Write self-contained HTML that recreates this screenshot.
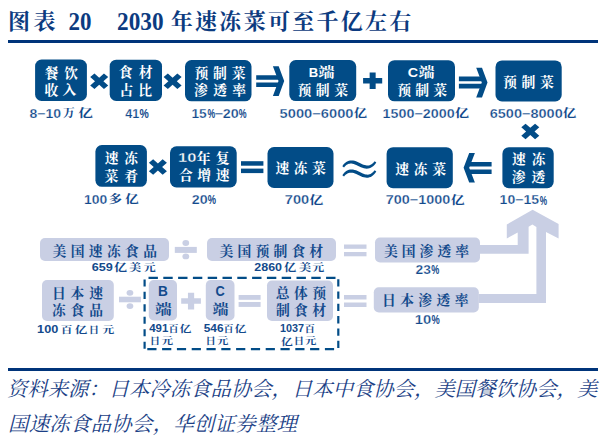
<!DOCTYPE html>
<html lang="zh-CN"><head><meta charset="utf-8"><title>图表 20 2030年速冻菜可至千亿左右</title>
<style>
html,body{margin:0;padding:0;background:#fff}
body{width:608px;height:440px;overflow:hidden}
svg{display:block}
text{white-space:pre}
.k{font-family:"Liberation Serif","Noto Serif CJK SC",serif;font-weight:700}
.n{font-family:"Liberation Sans","Noto Sans CJK SC",sans-serif;font-weight:700}
.ti{font-family:"Liberation Serif","Noto Serif CJK SC",serif;font-weight:700}
.fo{font-family:"Liberation Serif","Noto Serif CJK SC",serif;font-weight:400;font-style:italic}
</style></head><body>
<svg width="608" height="440" viewBox="0 0 608 440">
<g id="shapes">
<rect x="8" y="40" width="590" height="3" fill="#00347a"/>
<rect x="8" y="368" width="590" height="3" fill="#00347a"/>
<rect x="35.1" y="59.6" width="51.8" height="41.4" rx="6.5" ry="6.5" fill="#024c87"/>
<rect x="109.7" y="59.7" width="52.3" height="41.3" rx="6.5" ry="6.5" fill="#024c87"/>
<rect x="185" y="60" width="66.5" height="41.3" rx="6.5" ry="6.5" fill="#024c87"/>
<rect x="289.3" y="60.1" width="66.9" height="41.0" rx="6.5" ry="6.5" fill="#024c87"/>
<rect x="388" y="60.2" width="67" height="41.1" rx="6.5" ry="6.5" fill="#024c87"/>
<rect x="495.5" y="60.4" width="66.2" height="41.1" rx="6.5" ry="6.5" fill="#024c87"/>
<rect x="95.4" y="145.1" width="51.5" height="41.7" rx="6.5" ry="6.5" fill="#024c87"/>
<rect x="170" y="146.3" width="66.7" height="41.1" rx="6.5" ry="6.5" fill="#024c87"/>
<rect x="267.5" y="147" width="66.0" height="41" rx="6.5" ry="6.5" fill="#024c87"/>
<rect x="386.6" y="147.2" width="66.2" height="41.0" rx="6.5" ry="6.5" fill="#024c87"/>
<rect x="502.4" y="147.2" width="51.3" height="41.0" rx="6.5" ry="6.5" fill="#024c87"/>
<rect x="40" y="238" width="129" height="23" rx="5" ry="5" fill="#c9cfe4"/>
<rect x="207" y="238" width="129" height="23" rx="5" ry="5" fill="#c9cfe4"/>
<rect x="375" y="237.5" width="105" height="25.0" rx="5" ry="5" fill="#c9cfe4"/>
<rect x="42" y="280" width="71.8" height="41" rx="5" ry="5" fill="#c9cfe4"/>
<rect x="148.8" y="280" width="28.2" height="40.5" rx="5" ry="5" fill="#c9cfe4"/>
<rect x="205.8" y="280" width="28.7" height="40.5" rx="5" ry="5" fill="#c9cfe4"/>
<rect x="267" y="280.5" width="66" height="40.5" rx="5" ry="5" fill="#c9cfe4"/>
<rect x="373.8" y="287.2" width="105.0" height="25.2" rx="5" ry="5" fill="#c9cfe4"/>
<path d="M90.2,76.95L94.45,73.45L99.2,77.65L103.95,73.45L108.2,76.95L103.4,81.2L108.2,85.45L103.95,88.95L99.2,84.75L94.45,88.95L90.2,85.45L95.0,81.2Z" fill="#024c87"/>
<path d="M163.6,76.95L167.85,73.45L172.6,77.65L177.35,73.45L181.6,76.95L176.8,81.2L181.6,85.45L177.35,88.95L172.6,84.75L167.85,88.95L163.6,85.45L168.4,81.2Z" fill="#024c87"/>
<path d="M148.9,162.75L153.15,159.25L157.9,163.45L162.65,159.25L166.9,162.75L162.1,167L166.9,171.25L162.65,174.75L157.9,170.55L153.15,174.75L148.9,171.25L153.7,167Z" fill="#024c87"/>
<path d="M521.3,127.15L525.55,123.65L530.3,127.85L535.05,123.65L539.3,127.15L534.5,131.4L539.3,135.65L535.05,139.15L530.3,134.95L525.55,139.15L521.3,135.65L526.1,131.4Z" fill="#024c87"/>
<path d="M363.1,78.0H382.2V83.4H363.1Z M369.65,72.5H375.65V88.9H369.65Z" fill="#024c87"/>
<path d="M181.2,298.25H200.9V303.85H181.2Z M187.95,292.7H194.15V309.4H187.95Z" fill="#c9cfe4"/>
<rect x="241" y="161.2" width="22.4" height="4.5" fill="#024c87"/>
<rect x="241" y="168.6" width="22.4" height="4.5" fill="#024c87"/>
<rect x="344" y="244.5" width="22.5" height="4.3" fill="#c9cfe4"/>
<rect x="344" y="252" width="22.5" height="4.3" fill="#c9cfe4"/>
<rect x="344" y="295" width="22.5" height="4.5" fill="#c9cfe4"/>
<rect x="344" y="302.5" width="22.5" height="4.5" fill="#c9cfe4"/>
<rect x="238.6" y="295" width="22.0" height="4.8" fill="#c9cfe4"/>
<rect x="238.6" y="302" width="22.0" height="4.9" fill="#c9cfe4"/>
<path d="M256.2,75.19999999999999H280.2V79.8H256.2Z M256.2,82.39999999999999H280.2V87.1H256.2Z" fill="#024c87"/>
<path d="M272.9,66.3H278.7L284.2,81.1L278.7,96.0H272.9L278.5,81.1Z" fill="#024c87"/>
<path d="M458.9,76.6H483.5V81.2H458.9Z M458.9,83.8H483.5V88.5H458.9Z" fill="#024c87"/>
<path d="M476.2,67.7H482.0L487.5,82.5L482.0,97.4H476.2L481.8,82.5Z" fill="#024c87"/>
<path d="M491.6,162.1H467.6V166.5H491.6Z M491.6,169.6H467.6V174.1H491.6Z" fill="#024c87"/>
<path d="M474.9,152.89999999999998H469.2L463.6,167.7L469.2,182.5H474.9L469.2,167.7Z" fill="#024c87"/>
<path d="M344.04,167.42L344.8,166.52L345.56,165.76L346.33,165.11L347.12,164.58L347.92,164.17L348.75,163.87L349.6,163.67L350.5,163.59L351.47,163.61L352.51,163.74L353.65,164.01L354.89,164.42L356.24,164.98L357.74,165.72L359.32,166.52L360.88,167.23L362.38,167.81L363.85,168.24L365.29,168.52L366.7,168.63L368.08,168.55L369.42,168.27L370.71,167.78L371.94,167.09L373.1,166.21L374.21,165.14L375.29,163.88L376.32,162.45L374.68,161.15L373.58,162.42L372.54,163.43L371.54,164.22L370.57,164.81L369.64,165.21L368.72,165.45L367.8,165.55L366.83,165.52L365.81,165.37L364.7,165.08L363.5,164.67L362.21,164.14L360.81,163.48L359.26,162.68L357.63,161.88L356.03,161.25L354.5,160.79L353.01,160.51L351.59,160.41L350.24,160.48L348.95,160.73L347.74,161.14L346.63,161.7L345.61,162.39L344.68,163.2L343.83,164.11L343.05,165.12L342.36,166.18Z" fill="#024c87"/>
<path d="M344.04,176.52L344.8,175.62L345.56,174.86L346.33,174.21L347.12,173.68L347.92,173.27L348.75,172.97L349.6,172.77L350.5,172.69L351.47,172.71L352.51,172.84L353.65,173.11L354.89,173.52L356.24,174.08L357.74,174.82L359.32,175.62L360.88,176.33L362.38,176.91L363.85,177.34L365.29,177.62L366.7,177.73L368.08,177.65L369.42,177.37L370.71,176.88L371.94,176.19L373.1,175.31L374.21,174.24L375.29,172.98L376.32,171.55L374.68,170.25L373.58,171.52L372.54,172.53L371.54,173.32L370.57,173.91L369.64,174.31L368.72,174.55L367.8,174.65L366.83,174.62L365.81,174.47L364.7,174.18L363.5,173.77L362.21,173.24L360.81,172.58L359.26,171.78L357.63,170.98L356.03,170.35L354.5,169.89L353.01,169.61L351.59,169.51L350.24,169.58L348.95,169.83L347.74,170.24L346.63,170.8L345.61,171.49L344.68,172.3L343.83,173.21L343.05,174.22L342.36,175.28Z" fill="#024c87"/>
<rect x="174.8" y="246.9" width="22.0" height="6.0" fill="#c9cfe4"/>
<ellipse cx="185.8" cy="243" rx="3.4" ry="2.9" fill="#c9cfe4"/><ellipse cx="185.8" cy="256.4" rx="3.4" ry="2.9" fill="#c9cfe4"/>
<rect x="119" y="296.7" width="21.9" height="5.6" fill="#c9cfe4"/>
<ellipse cx="129.95" cy="292.8" rx="3.4" ry="2.9" fill="#c9cfe4"/><ellipse cx="129.95" cy="306.1" rx="3.4" ry="2.9" fill="#c9cfe4"/>
<path d="M532.6,209.8L558.6,224V238.6L546,232V303H478.5V294H536.4V227.1L532.4,224.6L528.6,226.8V253.7H479.5V245H517.7V232.6L506.8,238.4V224.5Z" fill="#c9cfe4"/>
<g stroke="#024c87" stroke-width="2.2" fill="none"><path d="M148.5,277.8H336" stroke-dasharray="9.4 5.4"/><path d="M147.3,349.1H336" stroke-dasharray="9.2 5.6"/><path d="M144.6,279.4V349" stroke-dasharray="7.1 5.35"/><path d="M338.3,279.2V349" stroke-dasharray="7.3 5.0"/></g>
</g>
<g id="labels">
<text><tspan class="k" x="44.75" y="77.52" font-size="13.8" fill="#ffffff" textLength="33.25" lengthAdjust="spacing">餐饮</tspan><tspan class="k" x="44.5" y="94.87" font-size="13.8" fill="#ffffff" textLength="31.75" lengthAdjust="spacing">收入</tspan></text>
<text><tspan class="k" x="118.7" y="76.72" font-size="13.8" fill="#ffffff" textLength="33.85" lengthAdjust="spacing">食材</tspan><tspan class="k" x="119.5" y="94.52" font-size="13.8" fill="#ffffff" textLength="32.45" lengthAdjust="spacing">占比</tspan></text>
<text><tspan class="k" x="194.5" y="77.52" font-size="13.8" fill="#ffffff" textLength="51.0" lengthAdjust="spacing">预制菜</tspan><tspan class="k" x="194.0" y="95.02" font-size="13.8" fill="#ffffff" textLength="52.15" lengthAdjust="spacing">渗透率</tspan></text>
<text><tspan class="n" x="308.69" y="76.67" font-size="13.1" fill="#ffffff" textLength="9.46" lengthAdjust="spacingAndGlyphs">B</tspan><tspan class="k" x="318.21" y="77.22" font-size="13.8" fill="#ffffff" textLength="16.33" lengthAdjust="spacingAndGlyphs">端</tspan><tspan class="k" x="297.5" y="94.72" font-size="13.8" fill="#ffffff" textLength="50.5" lengthAdjust="spacing">预制菜</tspan></text>
<text><tspan class="n" x="407.87" y="76.77" font-size="13.1" fill="#ffffff" textLength="10.37" lengthAdjust="spacingAndGlyphs">C</tspan><tspan class="k" x="418.46" y="77.22" font-size="13.8" fill="#ffffff" textLength="16.07" lengthAdjust="spacingAndGlyphs">端</tspan><tspan class="k" x="397.2" y="94.92" font-size="13.8" fill="#ffffff" textLength="49.85" lengthAdjust="spacing">预制菜</tspan></text>
<text><tspan class="k" x="503.05" y="86.87" font-size="13.8" fill="#ffffff" textLength="50.85" lengthAdjust="spacing">预制菜</tspan></text>
<text><tspan class="k" x="104.75" y="163.22" font-size="13.8" fill="#ffffff" textLength="33.25" lengthAdjust="spacing">速冻</tspan><tspan class="k" x="104.5" y="180.72" font-size="13.8" fill="#ffffff" textLength="33.5" lengthAdjust="spacing">菜肴</tspan></text>
<text><tspan stroke="#024c87" stroke-width="0.35" class="n" x="178.09" y="161.75" font-size="12.9" fill="#ffffff" textLength="18.37" lengthAdjust="spacingAndGlyphs">10</tspan><tspan class="k" x="196.8" y="163.02" font-size="13.8" fill="#ffffff" textLength="32.65" lengthAdjust="spacing">年复</tspan><tspan class="k" x="179.0" y="180.22" font-size="13.8" fill="#ffffff" textLength="50.5" lengthAdjust="spacing">合增速</tspan></text>
<text><tspan class="k" x="275.45" y="172.72" font-size="13.8" fill="#ffffff" textLength="50.25" lengthAdjust="spacing">速冻菜</tspan></text>
<text><tspan class="k" x="395.15" y="173.87" font-size="13.8" fill="#ffffff" textLength="50.95" lengthAdjust="spacing">速冻菜</tspan></text>
<text><tspan class="k" x="511.95" y="164.02" font-size="13.8" fill="#ffffff" textLength="33.5" lengthAdjust="spacing">速冻</tspan><tspan class="k" x="511.7" y="182.32" font-size="13.8" fill="#ffffff" textLength="33.5" lengthAdjust="spacing">渗透</tspan></text>
<text><tspan class="k" x="52.5" y="255.92" font-size="13.8" fill="#134a8c" textLength="104.5" lengthAdjust="spacing">美国速冻食品</tspan></text>
<text><tspan class="k" x="219.5" y="255.72" font-size="13.8" fill="#134a8c" textLength="103.65" lengthAdjust="spacing">美国预制食材</tspan></text>
<text><tspan class="k" x="384.0" y="255.72" font-size="13.8" fill="#134a8c" textLength="85.0" lengthAdjust="spacing">美国渗透率</tspan></text>
<text><tspan class="k" x="382.0" y="305.22" font-size="13.8" fill="#134a8c" textLength="86.5" lengthAdjust="spacing">日本渗透率</tspan></text>
<text><tspan class="k" x="52.0" y="297.72" font-size="13.8" fill="#134a8c" textLength="51.0" lengthAdjust="spacing">日本速</tspan><tspan class="k" x="52.0" y="314.72" font-size="13.8" fill="#134a8c" textLength="51.0" lengthAdjust="spacing">冻食品</tspan></text>
<text><tspan class="n" x="158.05" y="295.94" font-size="14.2" fill="#134a8c" textLength="9.87" lengthAdjust="spacingAndGlyphs">B</tspan><tspan class="k" x="154.94" y="313.92" font-size="13.8" fill="#134a8c" textLength="16.75" lengthAdjust="spacingAndGlyphs">端</tspan></text>
<text><tspan class="n" x="215.4" y="296.31" font-size="14.2" fill="#134a8c" textLength="9.24" lengthAdjust="spacingAndGlyphs">C</tspan><tspan class="k" x="212.46" y="313.92" font-size="13.8" fill="#134a8c" textLength="16.07" lengthAdjust="spacingAndGlyphs">端</tspan></text>
<text><tspan class="k" x="275.7" y="297.72" font-size="13.8" fill="#134a8c" textLength="50.35" lengthAdjust="spacing">总体预</tspan><tspan class="k" x="275.95" y="314.72" font-size="13.8" fill="#134a8c" textLength="50.1" lengthAdjust="spacing">制食材</tspan></text>
<text><tspan stroke="#fff" stroke-width="0.25" class="n" x="29.48" y="118.23" font-size="12.9" fill="#134a8c" textLength="31.66" lengthAdjust="spacingAndGlyphs">8−10</tspan><tspan class="k" x="63.03" y="117.16" font-size="11" fill="#134a8c" textLength="11.78" lengthAdjust="spacingAndGlyphs">万</tspan><tspan class="k" x="78.23" y="117.2" font-size="11" fill="#134a8c" textLength="14.66" lengthAdjust="spacingAndGlyphs">亿</tspan></text>
<text><tspan stroke="#fff" stroke-width="0.25" class="n" x="125.13" y="118.23" font-size="12.9" fill="#134a8c" textLength="14.04" lengthAdjust="spacingAndGlyphs">41</tspan><tspan class="n" x="139.43" y="117.93" font-size="12.9" fill="#134a8c" textLength="9.28" lengthAdjust="spacingAndGlyphs">%</tspan></text>
<text><tspan stroke="#fff" stroke-width="0.25" class="n" x="191.45" y="117.94" font-size="12.9" fill="#134a8c" textLength="15.33" lengthAdjust="spacingAndGlyphs">15</tspan><tspan class="n" x="207.38" y="117.73" font-size="12.9" fill="#134a8c" textLength="7.66" lengthAdjust="spacingAndGlyphs">%</tspan><tspan stroke="#fff" stroke-width="0.25" class="n" x="214.54" y="117.78" font-size="12.9" fill="#134a8c" textLength="8.65" lengthAdjust="spacingAndGlyphs">−</tspan><tspan stroke="#fff" stroke-width="0.25" class="n" x="222.8" y="117.94" font-size="12.9" fill="#134a8c" textLength="15.98" lengthAdjust="spacingAndGlyphs">20</tspan><tspan class="n" x="238.81" y="117.73" font-size="12.9" fill="#134a8c" textLength="7.81" lengthAdjust="spacingAndGlyphs">%</tspan></text>
<text><tspan stroke="#fff" stroke-width="0.25" class="n" x="279.64" y="118.33" font-size="12.9" fill="#134a8c" textLength="73.87" lengthAdjust="spacingAndGlyphs">5000−6000</tspan><tspan class="k" x="353.72" y="117.41" font-size="11" fill="#134a8c" textLength="13.36" lengthAdjust="spacingAndGlyphs">亿</tspan></text>
<text><tspan stroke="#fff" stroke-width="0.25" class="n" x="382.58" y="118.33" font-size="12.9" fill="#134a8c" textLength="72.09" lengthAdjust="spacingAndGlyphs">1500−2000</tspan><tspan class="k" x="454.72" y="117.41" font-size="11" fill="#134a8c" textLength="14.36" lengthAdjust="spacingAndGlyphs">亿</tspan></text>
<text><tspan stroke="#fff" stroke-width="0.25" class="n" x="489.73" y="118.33" font-size="12.9" fill="#134a8c" textLength="73.03" lengthAdjust="spacingAndGlyphs">6500−8000</tspan><tspan class="k" x="562.73" y="117.41" font-size="11" fill="#134a8c" textLength="13.54" lengthAdjust="spacingAndGlyphs">亿</tspan></text>
<text><tspan stroke="#fff" stroke-width="0.25" class="n" x="84.07" y="203.78" font-size="12.9" fill="#134a8c" textLength="23.31" lengthAdjust="spacingAndGlyphs">100</tspan><tspan class="k" x="108.79" y="203.41" font-size="11" fill="#134a8c" textLength="13.32" lengthAdjust="spacingAndGlyphs">多</tspan><tspan class="k" x="125.14" y="203.41" font-size="11" fill="#134a8c" textLength="13.74" lengthAdjust="spacingAndGlyphs">亿</tspan></text>
<text><tspan stroke="#fff" stroke-width="0.25" class="n" x="191.72" y="203.78" font-size="12.9" fill="#134a8c" textLength="15.9" lengthAdjust="spacingAndGlyphs">20</tspan><tspan class="n" x="207.7" y="204.08" font-size="12.9" fill="#134a8c" textLength="8.26" lengthAdjust="spacingAndGlyphs">%</tspan></text>
<text><tspan stroke="#fff" stroke-width="0.25" class="n" x="284.85" y="204.34" font-size="12.9" fill="#134a8c" textLength="24.37" lengthAdjust="spacingAndGlyphs">700</tspan><tspan class="k" x="309.23" y="203.62" font-size="11" fill="#134a8c" textLength="14.03" lengthAdjust="spacingAndGlyphs">亿</tspan></text>
<text><tspan stroke="#fff" stroke-width="0.25" class="n" x="385.73" y="204.34" font-size="12.9" fill="#134a8c" textLength="64.54" lengthAdjust="spacingAndGlyphs">700−1000</tspan><tspan class="k" x="450.72" y="203.62" font-size="11" fill="#134a8c" textLength="13.86" lengthAdjust="spacingAndGlyphs">亿</tspan></text>
<text><tspan stroke="#fff" stroke-width="0.25" class="n" x="499.62" y="204.28" font-size="12.9" fill="#134a8c" textLength="39.51" lengthAdjust="spacingAndGlyphs">10−15</tspan><tspan class="n" x="539.87" y="204.58" font-size="12.9" fill="#134a8c" textLength="7.32" lengthAdjust="spacingAndGlyphs">%</tspan></text>
<text><tspan class="n" x="91.79" y="271.0" font-size="11.4" fill="#134a8c" textLength="21.14" lengthAdjust="spacingAndGlyphs">659</tspan><tspan class="k" x="114.01" y="270.94" font-size="10.2" fill="#134a8c" textLength="13.08" lengthAdjust="spacingAndGlyphs">亿</tspan><tspan class="k" x="129.13" y="270.81" font-size="10.2" fill="#134a8c" textLength="12.28" lengthAdjust="spacingAndGlyphs">美</tspan><tspan class="k" x="143.44" y="270.67" font-size="10.2" fill="#134a8c" textLength="12.2" lengthAdjust="spacingAndGlyphs">元</tspan></text>
<text><tspan class="n" x="254.28" y="271.0" font-size="11.4" fill="#134a8c" textLength="27.74" lengthAdjust="spacingAndGlyphs">2860</tspan><tspan class="k" x="284.14" y="270.81" font-size="10.2" fill="#134a8c" textLength="12.23" lengthAdjust="spacingAndGlyphs">亿</tspan><tspan class="k" x="298.74" y="270.94" font-size="10.2" fill="#134a8c" textLength="12.52" lengthAdjust="spacingAndGlyphs">美</tspan><tspan class="k" x="312.24" y="270.94" font-size="10.2" fill="#134a8c" textLength="11.98" lengthAdjust="spacingAndGlyphs">元</tspan></text>
<text><tspan stroke="#fff" stroke-width="0.25" class="n" x="415.49" y="274.44" font-size="12.9" fill="#134a8c" textLength="15.38" lengthAdjust="spacingAndGlyphs">23</tspan><tspan class="n" x="431.23" y="274.23" font-size="12.9" fill="#134a8c" textLength="8.04" lengthAdjust="spacingAndGlyphs">%</tspan></text>
<text><tspan stroke="#fff" stroke-width="0.25" class="n" x="414.86" y="324.44" font-size="12.9" fill="#134a8c" textLength="16.49" lengthAdjust="spacingAndGlyphs">10</tspan><tspan class="n" x="431.48" y="324.23" font-size="12.9" fill="#134a8c" textLength="8.24" lengthAdjust="spacingAndGlyphs">%</tspan></text>
<text><tspan class="n" x="37.13" y="332.69" font-size="10.7" fill="#134a8c" textLength="21.17" lengthAdjust="spacingAndGlyphs">100</tspan><tspan class="k" x="60.78" y="332.75" font-size="9.2" fill="#134a8c" textLength="11.77" lengthAdjust="spacingAndGlyphs">百</tspan><tspan class="k" x="74.73" y="332.86" font-size="9.2" fill="#134a8c" textLength="12.54" lengthAdjust="spacingAndGlyphs">亿</tspan><tspan class="k" x="88.66" y="332.61" font-size="9.2" fill="#134a8c" textLength="10.32" lengthAdjust="spacingAndGlyphs">日</tspan><tspan class="k" x="102.24" y="332.75" font-size="9.2" fill="#134a8c" textLength="11.98" lengthAdjust="spacingAndGlyphs">元</tspan></text>
<text><tspan class="n" x="149.19" y="332.32" font-size="10.7" fill="#134a8c" textLength="19.12" lengthAdjust="spacingAndGlyphs">491</tspan><tspan class="k" x="168.44" y="332.25" font-size="9.2" fill="#134a8c" textLength="10.12" lengthAdjust="spacingAndGlyphs">百</tspan><tspan class="k" x="179.48" y="332.26" font-size="9.2" fill="#134a8c" textLength="11.86" lengthAdjust="spacingAndGlyphs">亿</tspan><tspan class="k" x="149.66" y="344.31" font-size="9.2" fill="#134a8c" textLength="10.32" lengthAdjust="spacingAndGlyphs">日</tspan><tspan class="k" x="161.45" y="344.31" font-size="9.2" fill="#134a8c" textLength="11.56" lengthAdjust="spacingAndGlyphs">元</tspan></text>
<text><tspan class="n" x="203.71" y="332.19" font-size="10.7" fill="#134a8c" textLength="19.82" lengthAdjust="spacingAndGlyphs">546</tspan><tspan class="k" x="223.44" y="332.25" font-size="9.2" fill="#134a8c" textLength="10.12" lengthAdjust="spacingAndGlyphs">百</tspan><tspan class="k" x="234.48" y="332.26" font-size="9.2" fill="#134a8c" textLength="11.86" lengthAdjust="spacingAndGlyphs">亿</tspan><tspan class="k" x="205.56" y="344.31" font-size="9.2" fill="#134a8c" textLength="10.32" lengthAdjust="spacingAndGlyphs">日</tspan><tspan class="k" x="216.96" y="344.31" font-size="9.2" fill="#134a8c" textLength="11.31" lengthAdjust="spacingAndGlyphs">元</tspan></text>
<text><tspan class="n" x="280.0" y="332.32" font-size="10.7" fill="#134a8c" textLength="24.08" lengthAdjust="spacingAndGlyphs">1037</tspan><tspan class="k" x="304.47" y="332.25" font-size="9.2" fill="#134a8c" textLength="10.54" lengthAdjust="spacingAndGlyphs">百</tspan><tspan class="k" x="281.14" y="344.56" font-size="9.2" fill="#134a8c" textLength="11.76" lengthAdjust="spacingAndGlyphs">亿</tspan><tspan class="k" x="293.66" y="344.31" font-size="9.2" fill="#134a8c" textLength="10.32" lengthAdjust="spacingAndGlyphs">日</tspan><tspan class="k" x="304.96" y="344.31" font-size="9.2" fill="#134a8c" textLength="11.31" lengthAdjust="spacingAndGlyphs">元</tspan></text>
</g>
<g id="headfoot">
<text class="ti" y="28.9" font-size="22" fill="#0c3b80"><tspan x="8" textLength="47.5" lengthAdjust="spacing">图表</tspan> <tspan x="68.5" y="29.6" font-size="24.5" textLength="23" lengthAdjust="spacingAndGlyphs">20</tspan> <tspan x="117" y="29.6" font-size="24.5" textLength="46.5" lengthAdjust="spacingAndGlyphs">2030</tspan> <tspan x="170.8" y="28.9" textLength="240.5" lengthAdjust="spacing">年速冻菜可至千亿左右</tspan></text>
<text class="fo" font-size="20.4" fill="#1b3f86"><tspan x="7" y="395.5" textLength="590.3" lengthAdjust="spacing">资料来源：日本冷冻食品协会，日本中食协会，美国餐饮协会，美</tspan><tspan x="8" y="431.2" textLength="289" lengthAdjust="spacing">国速冻食品协会，华创证券整理</tspan></text>
</g>
</svg>
</body></html>
